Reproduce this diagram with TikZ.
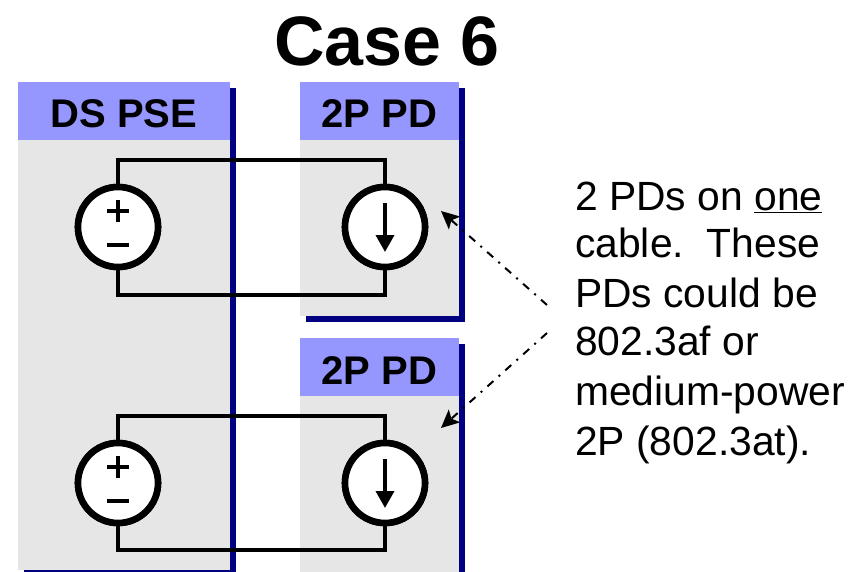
\documentclass[tikz,border=0pt]{standalone}
\usepackage{fontspec}
\setmainfont{Liberation Sans}
\usetikzlibrary{arrows.meta,calc}
\definecolor{navy}{RGB}{0,0,128}
\definecolor{hdr}{RGB}{150,150,255}
\definecolor{bodyg}{RGB}{230,230,230}
\tikzset{
  x=1pt,y=-1pt,
  bodybox/.style={fill=bodyg,draw=none},
  hdrbox/.style={fill=hdr,draw=none,inner sep=0pt,text height=34pt,text depth=0pt,font=\fontsize{40}{40}\selectfont\bfseries},
  shadowbar/.style={fill=navy,draw=none},
  wire/.style={draw=black,line width=4.2pt},
  src/.style={circle,draw=black,fill=white,line width=6.6pt,minimum size=80pt,inner sep=0pt,outer sep=0pt},
  sym/.style={line width=3.8pt,draw=black},
  leader/.style={draw=black,line width=2pt,dash pattern=on 8pt off 7pt on 2pt off 7pt,-{Stealth[length=18pt,width=17pt,inset=4pt]}},
  note/.style={anchor=base west,inner sep=0pt,font=\fontsize{40.8}{41}\selectfont},
}
\begin{document}
\begin{tikzpicture}
\useasboundingbox (0,0) rectangle (864,572);
% shadows
\fill[shadowbar] (24,88) rectangle (236,572);
\fill[shadowbar] (306,88) rectangle (465,322);
\fill[shadowbar] (459,344) rectangle (465,572);
% bodies
\fill[bodybox] (18,82) rectangle (230,570);
\fill[bodybox] (300,82) rectangle (459,316);
\fill[bodybox] (300,338) rectangle (459,572);
% headers
\node[hdrbox,minimum width=212pt,minimum height=58pt] (pse) at (124,111) {DS PSE};
\node[hdrbox,minimum width=159pt,minimum height=58pt] (pd1) at (379.5,111) {2P PD};
\node[hdrbox,minimum width=159pt,minimum height=58pt] (pd2) at (379.5,367) {2P PD};
% title
\node[inner sep=0pt,font=\fontsize{70}{70}\selectfont\bfseries] (title) at (387,41) {Case 6};
% sources
\node[src] (v1) at (118,227) {};
\node[src] (i1) at (385,227) {};
\node[src] (v2) at (118,483) {};
\node[src] (i2) at (385,483) {};
% wires
\draw[wire,line join=miter] (v1.north) |- (i1.north |- 0,160) -- (i1.north);
\draw[wire,line join=miter] (v1.south) |- (i1.south |- 0,295) -- (i1.south);
\draw[wire,line join=miter] (v2.north) |- (i2.north |- 0,416) -- (i2.north);
\draw[wire,line join=miter] (v2.south) |- (i2.south |- 0,550) -- (i2.south);
% redraw source circles over wires
\node[src] at (v1) {};
\node[src] at (i1) {};
\node[src] at (v2) {};
\node[src] at (i2) {};
% plus/minus
\foreach \n in {v1,v2}{
  \draw[sym] ($(\n)+(-11,-16)$) -- ($(\n)+(11,-16)$);
  \draw[sym] ($(\n)+(0,-27)$) -- ($(\n)+(0,-5)$);
  \draw[sym] ($(\n)+(-11,18)$) -- ($(\n)+(11,18)$);
}
% current arrows
\foreach \n in {i1,i2}{
  \draw[line width=3.6pt,-{Stealth[length=17pt,width=18pt,inset=0pt]}] ($(\n)+(0,-24)$) -- ($(\n)+(0,25)$);
}
% note
\node[note] (n1) at (575,210) {2 PDs on \underline{one}};
\node[note] (n2) at (575,257) {cable.\ \ These};
\node[note] (n3) at (575,307) {PDs could be};
\node[note] (n4) at (575,355) {802.3af or};
\node[note] (n5) at (575,405) {medium-power};
\node[note] (n6) at (575,455) {2P (802.3at).};
% leaders
\coordinate (l1) at (547,305);
\coordinate (l2) at (547,333);
\coordinate (t1) at (441,211);
\coordinate (t2) at (441,428);
\draw[leader] (l1) -- (t1);
\draw[leader] (l2) -- (t2);
\end{tikzpicture}
\end{document}
